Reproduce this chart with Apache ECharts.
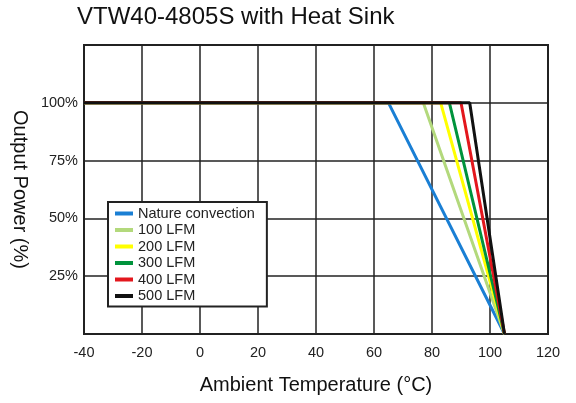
<!DOCTYPE html>
<html><head><meta charset="utf-8">
<script src="https://cdn.jsdelivr.net/npm/echarts@6/dist/echarts.min.js"></script>
<style>html,body{margin:0;padding:0;background:#fff}#c{width:576px;height:403px}</style>
</head><body><div id="c"></div>
<script>
const seriesNames = ['Nature convection','100 LFM','200 LFM','300 LFM','400 LFM','500 LFM'];
const seriesColors = ['#1a7fd4','#b3d97c','#ffff00','#00933c','#e3171d','#111111'];
const startTemps = [65, 77, 83, 86, 90, 93];   // temperature where derating begins (100%)
const leftTemp = -40;
const endTemp = 105;     // temperature at 0% output
const fullPower = 100;
const zeroPower = 0;
const xTicks = [-40,-20,0,20,40,60,80,100,120];
const yTickLabels = [25,50,75,100];

const FF = 'Liberation Sans, Arial';
const chart = echarts.init(document.getElementById('c'));
const series = seriesNames.map((n,i)=>({
  name:n, type:'line', symbol:'none', z: 2+i,
  lineStyle:{color:seriesColors[i], width:3},
  itemStyle:{color:seriesColors[i]},
  data:[[leftTemp,fullPower],[startTemps[i],fullPower],[endTemp,zeroPower]]
}));
chart.setOption({
  animation:false,
  title:{text:'VTW40-4805S with Heat Sink', left:72, top:0,
    textStyle:{fontFamily:FF, fontSize:24, fontWeight:'normal', color:'#111'}},
  grid:{left:84, right:28, top:45, bottom:69, show:true, borderColor:'#222', borderWidth:2, backgroundColor:'transparent'},
  legend:{orient:'vertical', left:108, top:202, backgroundColor:'#fff', borderColor:'#222', borderWidth:2,
    padding:[4,12,3,7], itemGap:1.5, itemWidth:18, itemHeight:4, icon:'rect',
    textStyle:{fontFamily:FF, fontSize:14.5, color:'#222'},
    data:seriesNames},
  xAxis:{type:'value', min:xTicks[0], max:xTicks[xTicks.length-1], interval:20,
    name:'Ambient Temperature (°C)', nameLocation:'middle', nameGap:41,
    nameTextStyle:{fontFamily:FF, fontSize:20, color:'#111'},
    axisLine:{show:false}, axisTick:{show:false},
    axisLabel:{fontFamily:FF, fontSize:14.5, color:'#222', margin:11},
    splitLine:{show:true, lineStyle:{color:'#222', width:1.5}}},
  yAxis:{type:'value', min:0, max:125, interval:25,
    name:'Output Power (%)', nameLocation:'middle', nameRotate:-90, nameGap:52,
    nameTextStyle:{fontFamily:FF, fontSize:20, color:'#111'},
    axisLine:{show:false}, axisTick:{show:false},
    axisLabel:{fontFamily:FF, fontSize:14.5, color:'#222', margin:6,
      formatter:v=>yTickLabels.includes(v)?v+'%':''},
    splitLine:{show:true, lineStyle:{color:'#222', width:1.5}}},
  series:series
});
</script></body></html>
